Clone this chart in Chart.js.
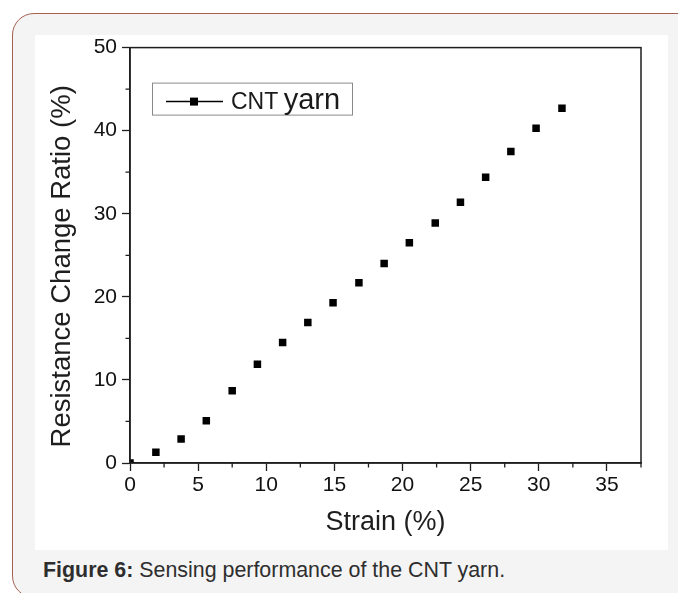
<!DOCTYPE html>
<html lang="en">
<head>
  <meta charset="UTF-8">
  <title>Sensing performance of the CNT yarn</title>
  <script src="https://cdn.jsdelivr.net/npm/chart.js@4.4.0/dist/chart.umd.min.js"></script>
  <style>
    html, body {
      margin: 0;
      width: 678px;
      height: 593px;
      overflow: hidden;
      background: #ffffff;
      font-family: Arial, "Liberation Sans", sans-serif;
    }

    /* marco exterior con esquinas redondeadas */
    .frame {
      position: absolute;
      left: 12px;
      top: 13px;
      width: 720px;
      height: 583px;
      border: 1.5px solid #a46152;
      border-radius: 22px;
      background: #f4f4f4;
    }

    .panel {
      position: absolute;
      left: 35px;
      top: 35px;
      width: 633px;
      height: 515px;
      background: #ffffff;
    }

    #cnt-chart {
      position: absolute;
      left: 35px;
      top: 30px;
    }

    .caption {
      position: absolute;
      left: 43px;
      top: 558px;
      font-size: 21.4px;
      color: #2e2e2e;
      white-space: nowrap;
    }
  </style>
</head>
<body>
  <div class="frame"></div>
  <div class="panel"></div>
  <canvas id="cnt-chart" width="633" height="520"></canvas>
  <div class="caption"><b>Figure 6:</b> Sensing performance of the CNT yarn.</div>

  <script>
    // Datos
    const strain = [0, 1.9, 3.75, 5.6, 7.5, 9.35, 11.2, 13.05, 14.9, 16.8, 18.65, 20.5, 22.4, 24.25, 26.1, 27.95, 29.8, 31.7];
    const resistanceChange = [0, 1.3, 2.9, 5.1, 8.7, 11.9, 14.5, 16.9, 19.3, 21.7, 24.0, 26.5, 28.9, 31.4, 34.4, 37.5, 40.3, 42.7];
    const seriesLabel = 'CNT yarn';
    const xTitle = 'Strain (%)';
    const yTitle = 'Resistance Change Ratio (%)';
    const xTicks = [0, 5, 10, 15, 20, 25, 30, 35];
    const yTicks = [0, 10, 20, 30, 40, 50];
    const xMinorTicks = [2.5, 7.5, 12.5, 17.5, 22.5, 27.5, 32.5, 37.5];
    const yMinorTicks = [5, 15, 25, 35, 45];

    const points = strain.map((x, i) => ({ x: x, y: resistanceChange[i] }));
    const FONT = 'Arial, "Liberation Sans", sans-serif';
    const AXIS = '#1e1e1e';

    // Caja superior/derecha, ticks menores, título Y y leyenda dentro del área
    const framePlugin = {
      id: 'framePlugin',
      afterDraw(chart) {
        const { ctx, chartArea: a, scales } = chart;
        ctx.save();
        ctx.strokeStyle = AXIS;
        ctx.lineWidth = 1.5;
        ctx.strokeRect(a.left, a.top, a.right - a.left, a.bottom - a.top);

        ctx.lineWidth = 1.3;
        ctx.beginPath();
        xMinorTicks.forEach(v => {
          const px = scales.x.getPixelForValue(v);
          ctx.moveTo(px, a.bottom);
          ctx.lineTo(px, a.bottom + 4.5);
        });
        yMinorTicks.forEach(v => {
          const py = scales.y.getPixelForValue(v);
          ctx.moveTo(a.left, py);
          ctx.lineTo(a.left - 4.5, py);
        });
        ctx.stroke();

        // título del eje Y (un poco más abajo que el centro del eje)
        ctx.save();
        ctx.translate(27, a.top + (a.bottom - a.top) / 2 + 11);
        ctx.rotate(-Math.PI / 2);
        ctx.fillStyle = '#1e1e1e';
        ctx.font = '27.5px ' + FONT;
        ctx.textAlign = 'center';
        ctx.textBaseline = 'middle';
        ctx.fillText(yTitle, 0, 0);
        ctx.restore();

        // leyenda
        const bx = a.left + 22, by = a.top + 35, bw = 200, bh = 32;
        ctx.strokeStyle = '#8a8a8a';
        ctx.lineWidth = 1;
        ctx.fillStyle = '#ffffff';
        ctx.fillRect(bx, by, bw, bh);
        ctx.strokeRect(bx + 0.5, by + 0.5, bw, bh);
        const cy = by + bh / 2 + 3;
        ctx.strokeStyle = '#000000';
        ctx.lineWidth = 1.5;
        ctx.beginPath();
        ctx.moveTo(bx + 14, cy);
        ctx.lineTo(bx + 71, cy);
        ctx.stroke();
        ctx.fillStyle = '#000000';
        ctx.fillRect(bx + 38, cy - 4, 8, 8);
        const parts = seriesLabel.split(' ');
        ctx.fillStyle = '#1a1a1a';
        ctx.textBaseline = 'alphabetic';
        ctx.font = '23px ' + FONT;
        ctx.fillText(parts[0], bx + 79, by + 26);
        const w = ctx.measureText(parts[0] + ' ').width;
        ctx.font = '29px ' + FONT;
        ctx.fillText(parts[1], bx + 78 + w, by + 26);
        ctx.restore();
      }
    };

    const ctx = document.getElementById('cnt-chart').getContext('2d');
    const chart = new Chart(ctx, {
      type: 'scatter',
      data: {
        datasets: [{
          label: seriesLabel,
          data: points,
          showLine: false,
          pointStyle: 'rect',
          pointRadius: 5.3,
          pointHoverRadius: 5.3,
          backgroundColor: '#000000',
          borderColor: '#000000',
          borderWidth: 0
        }]
      },
      options: {
        responsive: false,
        animation: false,
        events: [],
        layout: { padding: { left: 0, right: 27, top: 7, bottom: 0 } },
        plugins: {
          legend: { display: false },
          tooltip: { enabled: false }
        },
        scales: {
          x: {
            type: 'linear',
            min: 0,
            max: 37.5,
            afterFit: s => { s.height = 87; },
            afterBuildTicks: s => { s.ticks = xTicks.map(v => ({ value: v })); },
            grid: { display: true, drawOnChartArea: false, drawTicks: true, tickLength: 8, tickColor: AXIS, tickWidth: 1.3 },
            border: { display: true, color: AXIS, width: 1.5 },
            ticks: { color: '#111111', font: { family: FONT, size: 21 }, padding: 2, maxRotation: 0 },
            title: {
              display: true,
              text: xTitle,
              color: '#1e1e1e',
              font: { family: FONT, size: 27 },
              padding: { top: 0, bottom: 11 }
            }
          },
          y: {
            type: 'linear',
            min: 0,
            max: 50,
            afterFit: s => { s.width = 95; },
            afterBuildTicks: s => { s.ticks = yTicks.map(v => ({ value: v })); },
            grid: { display: true, drawOnChartArea: false, drawTicks: true, tickLength: 8, tickColor: AXIS, tickWidth: 1.3 },
            border: { display: true, color: AXIS, width: 1.5 },
            ticks: { color: '#111111', font: { family: FONT, size: 21 }, padding: 5 },
            title: { display: false }
          }
        }
      },
      plugins: [framePlugin]
    });
  </script>
</body>
</html>
